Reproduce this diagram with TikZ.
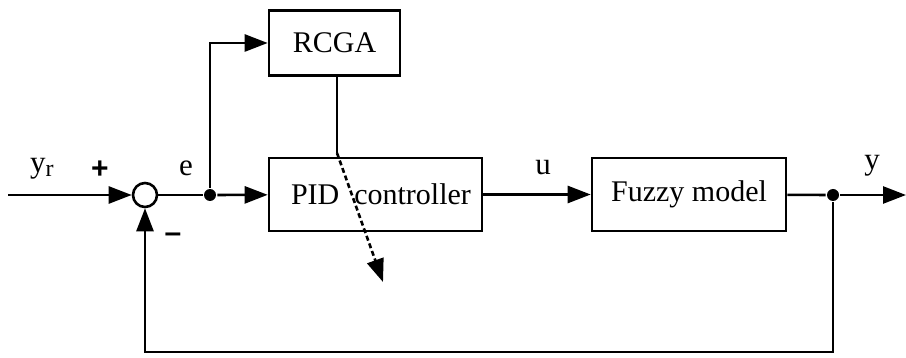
\documentclass[tikz,border=0pt]{standalone}
\usepackage{fontspec}
\setmainfont{Liberation Serif}
\newfontfamily\signfont{Liberation Sans}
\usetikzlibrary{arrows.meta,calc}
\begin{document}
\begin{tikzpicture}[x=1pt,y=-1pt,
  line width=2.6pt,
  blk/.style={draw,line width=2.6pt,minimum width=#1,minimum height=73pt,inner sep=0pt,
              font=\fontsize{30}{36}\selectfont},
  sig/.style={-{Triangle[length=23pt,width=17pt]}},
  lbl/.style={font=\fontsize{31}{36}\selectfont,inner sep=0pt},
  pm/.style={font=\signfont\bfseries\fontsize{30}{34}\selectfont,inner sep=0pt},
  junc/.style={circle,fill,inner sep=0pt,minimum size=12pt}]
  \useasboundingbox (0,0) rectangle (906,358);

  % blocks
  \node[blk=131pt,minimum height=65pt] (rcga) at (334.5,43) {RCGA};
  \node[blk=213pt] (pid) at (375.5,194.5)
    {\makebox[213pt][l]{\hspace{22pt}PID\hspace{15pt}controller}};
  \node[blk=194pt] (fuzzy) at (689,194.5) {Fuzzy model};
  \node[circle,draw,line width=2.6pt,minimum size=24pt,inner sep=0pt] (sum) at (145,195) {};

  % junctions and free ends
  \node[junc] (je) at (210,195) {};
  \node[junc] (jy) at (833,195) {};
  \coordinate (in) at (8,195);
  \coordinate (out) at (906,195);
  \coordinate (tune) at (337,153);
  \coordinate (tunetip) at (383,282);

  % forward path
  \draw[sig] (in) -- (sum);
  \draw (sum) -- (je);
  \draw[sig] (je) -- (pid);
  \draw[sig] (pid) -- (fuzzy);
  \draw (fuzzy) -- (jy);
  \draw[sig] (jy) -- (out);

  % tuning branch
  \draw[sig] (je) |- (rcga.west);
  \draw (rcga.south -| tune) -- (tune);
  \draw[sig,dash pattern=on 5pt off 3pt] (tune) -- (tunetip);

  % feedback
  \draw[sig] (jy) -- (833,352) -| (sum.south);

  % labels
  \node[lbl] at (42,169) {y\textsubscript{\fontsize{24}{28}\selectfont r}};
  \node[pm] at (100,170) {+};
  \node[pm] at (173,238) {–};
  \node[lbl] at (186,168) {e};
  \node[lbl] at (543,168) {u};
  \node[lbl] at (872,166) {y};
\end{tikzpicture}
\end{document}
